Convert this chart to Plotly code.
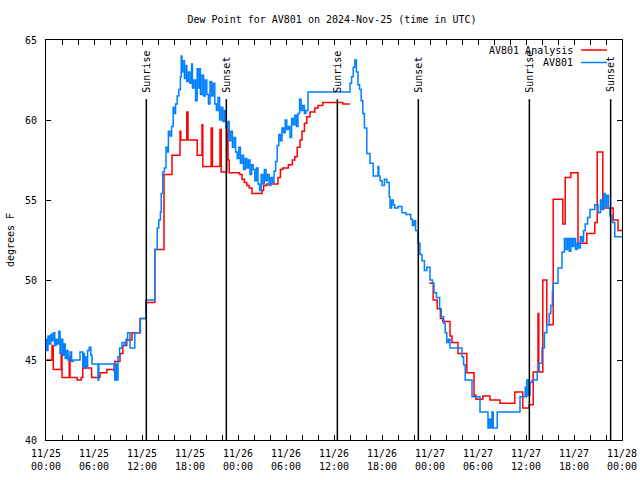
import pandas as pd
import plotly.graph_objects as go

BASE = pd.Timestamp("2024-11-25 00:00")

# AV801 observations: hours after 2024-11-25 00:00 UTC, dew point (F)
obs_hours = [0.0, 0.1, 0.25, 0.4, 0.6, 0.75, 0.9, 1.1, 1.25, 1.4, 1.6, 1.75, 1.9, 2.1, 2.25, 2.4, 2.6, 2.75,
             3.0, 3.2, 3.4, 3.75, 4.25, 4.5, 4.6, 4.7, 4.8, 4.9, 5.0, 5.2, 5.4, 5.6, 5.75, 6.5, 6.6, 8.5,
             8.6, 8.75, 8.9, 9.0, 9.2, 9.5, 9.8, 10.0, 10.2, 10.5, 11.1, 11.8, 12.5, 13.6, 13.9, 14.1,
             14.3, 14.4, 14.6, 14.8, 15.0, 15.2, 15.3, 15.5, 15.7, 15.9, 16.0, 16.2, 16.4, 16.6, 16.8,
             16.9, 17.0, 17.1, 17.3, 17.5, 17.6, 17.8, 18.0, 18.2, 18.3, 18.5, 18.7, 18.9, 19.0, 19.2,
             19.3, 19.5, 19.7, 19.9, 20.1, 20.3, 20.5, 20.7, 20.9, 21.1, 21.3, 21.5, 21.7, 21.9, 22.1,
             22.3, 22.5, 22.7, 22.9, 23.1, 23.3, 23.5, 23.7, 23.9, 24.1, 24.3, 24.5, 24.7, 24.9, 25.1,
             25.3, 25.5, 25.7, 25.9, 26.1, 26.3, 26.5, 26.7, 26.9, 27.1, 27.3, 27.5, 27.7, 27.9, 28.1,
             28.3, 28.5, 28.7, 28.9, 29.1, 29.3, 29.5, 29.7, 29.9, 30.1, 30.3, 30.5, 30.7, 30.9, 31.1,
             31.3, 31.5, 31.7, 31.9, 32.1, 32.3, 32.5, 32.75, 37.9, 38.0, 38.2, 38.4, 38.6, 38.8, 39.0,
             39.2, 39.4, 39.6, 39.8, 40.1, 40.5, 40.9, 41.5, 41.6, 41.75, 42.0, 42.3, 42.6, 42.9, 43.0,
             43.2, 43.4, 43.6, 44.0, 44.5, 45.0, 45.6, 45.8, 46.0, 46.2, 46.5, 46.75, 47.0, 47.3, 47.6,
             48.0, 48.3, 48.5, 48.8, 49.2, 49.4, 49.7, 49.9, 50.1, 50.3, 50.5, 52.0, 52.2, 52.4, 53.25,
             54.25, 55.25, 55.4, 55.6, 55.75, 55.9, 56.4, 59.25, 59.9, 60.0, 60.1, 60.3, 60.5, 60.75,
             61.4, 61.6, 62.0, 62.3, 62.6, 62.9, 63.1, 63.3, 63.4, 64.0, 64.5, 64.8, 65.0, 65.2, 65.4,
             65.6, 65.8, 66.0, 66.2, 66.4, 66.6, 66.8, 67.0, 67.2, 67.4, 67.7, 68.0, 68.6, 69.0, 69.3,
             69.5, 69.7, 69.9, 70.1, 70.3, 70.5, 70.8, 71.1, 72.0]
obs_dewpt = [46.3, 45.6, 46.5, 46.0, 46.6, 46.2, 46.7, 45.9, 46.3, 46.0, 46.8, 45.4, 46.3, 45.3, 46.0, 45.1, 45.6, 45.0,
             45.5, 44.9, 45.0, 45.0, 45.5, 45.5, 44.6, 45.4, 44.5, 45.2, 44.6, 45.6, 45.8, 45.3, 44.75, 43.75, 44.75, 44.3,
             43.75, 44.75, 43.75, 45.2, 45.75, 46.1, 45.9, 46.3, 46.7, 45.75, 46.7, 47.6, 48.75, 51.9, 53.25, 53.75,
             54.25, 55.4, 56.75, 57.0, 58.3, 58.0, 59.3, 59.0, 59.6, 60.8, 60.4, 61.0, 61.5, 61.9, 62.7,
             64.0, 63.0, 63.7, 62.6, 63.4, 62.4, 63.0, 62.3, 63.5, 62.0, 62.5, 61.2, 63.2, 62.0, 63.2,
             61.6, 62.8, 61.5, 62.5, 61.6, 61.0, 62.4, 61.5, 62.3, 61.0, 60.6, 61.4, 60.0, 60.8, 59.9,
             60.6, 59.5, 59.9, 58.7, 59.3, 58.3, 58.9, 58.0, 57.6, 58.3, 57.3, 57.8, 56.9, 57.6, 57.0,
             57.5, 56.6, 57.2, 56.9, 56.2, 57.0, 56.0, 55.6, 56.6, 56.0, 56.9, 56.2, 56.6, 55.9, 56.4,
             56.1, 56.8, 57.4, 58.4, 59.1, 58.7, 59.5, 59.2, 60.0, 59.4, 59.6, 58.9, 60.1, 59.7, 60.3,
             59.6, 60.4, 61.3, 60.6, 60.9, 60.4, 60.6, 61.75, 61.75, 62.3, 62.7, 63.3, 63.75, 63.0, 62.2,
             61.9, 61.2, 60.4, 59.5, 57.9, 57.3, 56.5, 57.1, 56.5, 56.2, 55.9, 56.3, 56.1, 55.2, 54.5,
             55.0, 54.7, 54.5, 54.6, 54.2, 54.1, 53.8, 53.4, 53.7, 53.1, 52.3, 51.6, 51.2, 50.6, 50.8,
             50.0, 49.8, 49.2, 48.9, 48.2, 47.7, 47.3, 46.7, 46.1, 46.3, 45.75, 45.2, 44.7, 43.75, 42.7,
             41.75, 40.75, 41.3, 40.75, 41.75, 40.75, 41.75, 42.7, 43.3, 42.7, 43.75, 42.8, 43.6, 43.75,
             44.3, 44.8, 45.75, 46.7, 47.2, 47.9, 48.4, 49.3, 49.8, 50.75, 51.75, 52.6, 51.9, 52.6, 51.8,
             52.6, 52.1, 52.6, 51.9, 52.3, 52.0, 52.7, 52.4, 53.1, 53.5, 53.9, 54.4, 54.7, 54.2, 55.0,
             54.4, 55.4, 54.6, 55.3, 54.5, 54.0, 53.6, 52.7, 52.7]

# AV801 Analysis (None = no analysis available)
ana_hours = [0.0, 0.75, 0.9, 1.9, 2.0, 2.9, 3.0, 3.9, 4.4, 4.6, 5.7, 6.75, 7.6, 8.6, 9.25, 9.6, 10.1, 10.75,
             11.75, 12.5, 13.6, 14.75, 15.75, 16.75, 16.85, 17.6, 17.75, 18.9, 19.5, 19.6, 20.65, 20.8,
             21.75, 21.9, 22.6, 22.75, 22.9, 24.2, 24.5, 24.8, 25.1, 25.4, 25.75, 27.0, 27.2, 27.6, 29.0,
             29.3, 29.6, 30.3, 30.8, 31.1, 31.4, 31.75, 32.0, 32.3, 32.6, 33.0, 33.6, 34.0, 34.6, 37.1,
             38.0, 43.0, 47.9, 48.4, 48.9, 49.3, 49.6, 50.5, 50.75, 51.5, 52.6, 53.5, 53.75, 54.6, 55.5,
             56.75, 58.6, 59.6, 60.4, 60.9, 61.5, 61.6, 62.1, 62.6, 63.4, 64.6, 64.9, 65.6, 66.5, 67.6,
             68.6, 68.9, 69.6, 70.9, 71.5, 72.0]
ana_dewpt = [45.0, 45.9, 44.4, 45.4, 43.9, 45.2, 43.9, 43.75, 43.9, 44.5, 43.9, 44.2, 44.4, 44.9, 45.4, 45.9, 46.25, 46.7,
             47.6, 48.6, 51.9, 56.6, 57.8, 59.3, 58.75, 60.5, 58.75, 57.8, 59.7, 57.1, 59.5, 57.1,
             59.4, 56.75, 59.4, 57.5, 56.7, 56.6, 56.3, 56.1, 55.9, 55.75, 55.4, 55.6, 55.9, 56.0, 56.4,
             56.9, 57.0, 57.2, 57.5, 57.7, 58.3, 58.75, 59.3, 59.8, 60.2, 60.5, 60.75, 60.9, 61.1, 61.0,
             61.0, None, 49.8, 48.75, 48.2, 47.6, 47.4, 46.5, 46.1, 45.4, 44.2, 42.8, 42.55, 42.75, 42.5,
             42.3, 43.0, 42.0, 42.2, 44.25, 47.9, 44.25, 50.0, 47.2, 55.05, 53.5, 56.4, 56.7, 52.3, 52.9,
             53.6, 58.0, 54.5, 53.75, 53.1, 53.1]

sun_hours = [12.54, 22.54, 36.42, 46.54, 60.42, 70.58]
sun_labels = ["Sunrise", "Sunset", "Sunrise", "Sunset", "Sunrise", "Sunset"]

tick_hours = list(range(0, 73, 6))
tick_labels = [f"{(BASE + pd.Timedelta(hours=h)).strftime('%m/%d')}<br>{(BASE + pd.Timedelta(hours=h)).strftime('%H:%M')}"
               for h in tick_hours]

def to_time(hours):
    return [BASE + pd.Timedelta(hours=h) for h in hours]

FONT = "DejaVu Sans Mono"
FS = 10
RED = "#ff0000"
BLUE = "#0080ff"

# plot area at page x 46..622, y 40..440 (body margin removed below)
W, H = 640, 480
L, T = 46, 40
PW, PH = 576, 400

fig = go.Figure()
fig.add_trace(go.Scatter(x=to_time(ana_hours), y=ana_dewpt, mode="lines", name="AV801 Analysis",
                         line=dict(color=RED, width=1.5, shape="hv"), connectgaps=False))
fig.add_trace(go.Scatter(x=to_time(obs_hours), y=obs_dewpt, mode="lines", name="AV801",
                         line=dict(color=BLUE, width=1.5, shape="hv")))

for h, lab in zip(sun_hours, sun_labels):
    t = BASE + pd.Timedelta(hours=h)
    fig.add_shape(type="line", xref="x", yref="y", x0=t, x1=t, y0=40, y1=61.3,
                  line=dict(color="black", width=1.5), layer="above")
    fig.add_annotation(x=t, y=61.6, xref="x", yref="y", text=lab, textangle=-90, showarrow=False,
                       xanchor="center", yanchor="bottom", font=dict(family=FONT, size=FS, color="black"))

# manual legend (gnuplot style: text right, sample to its right)
for i, (name, col) in enumerate([("AV801 Analysis", RED), ("AV801", BLUE)]):
    yp = 1 - (10 + 12.5 * i) / PH
    fig.add_annotation(x=(575 - 46) / PW, y=yp, xref="paper", yref="paper", text=name, showarrow=False,
                       xanchor="right", yanchor="middle", font=dict(family=FONT, size=FS, color="black"))
    fig.add_shape(type="line", xref="paper", yref="paper", x0=(581 - 46) / PW, x1=(607 - 46) / PW,
                  y0=yp, y1=yp, line=dict(color=col, width=1.5))

fig.update_layout(
    width=W, height=H,
    margin=dict(l=L, r=W - L - PW, t=T, b=H - T - PH, autoexpand=False),
    paper_bgcolor="white", plot_bgcolor="white",
    showlegend=False, hovermode=False,
    font=dict(family=FONT, size=FS, color="black"),
    title=dict(text="Dew Point for AV801 on 2024-Nov-25 (time in UTC)", x=332 / W, xanchor="center",
               y=1 - 19 / H, yanchor="middle", font=dict(family=FONT, size=FS)),
)
fig.update_xaxes(
    range=[BASE, BASE + pd.Timedelta(hours=72)], automargin=False,
    tickvals=to_time(tick_hours), ticktext=tick_labels,
    ticks="inside", ticklen=5, tickcolor="black", mirror="ticks",
    showline=True, linecolor="black", linewidth=1, showgrid=False, zeroline=False,
    minor=dict(tickvals=to_time(list(range(0, 73, 2))), ticks="inside", ticklen=5, tickcolor="black", showgrid=False),
    ticklabelstandoff=4,
    tickfont=dict(family=FONT, size=FS),
)
fig.update_yaxes(
    range=[40, 65], tickvals=[40, 45, 50, 55, 60, 65], automargin=False,
    ticks="inside", ticklen=5, tickcolor="black", mirror="ticks",
    showline=True, linecolor="black", linewidth=1, showgrid=False, zeroline=False,
    ticklabelstandoff=6,
    title=dict(text="degrees F", standoff=8, font=dict(family=FONT, size=FS)),
    tickfont=dict(family=FONT, size=FS),
)

fig.write_html("out.html", config={"displayModeBar": False, "staticPlot": True},
               post_script="document.body.style.margin='0';")
